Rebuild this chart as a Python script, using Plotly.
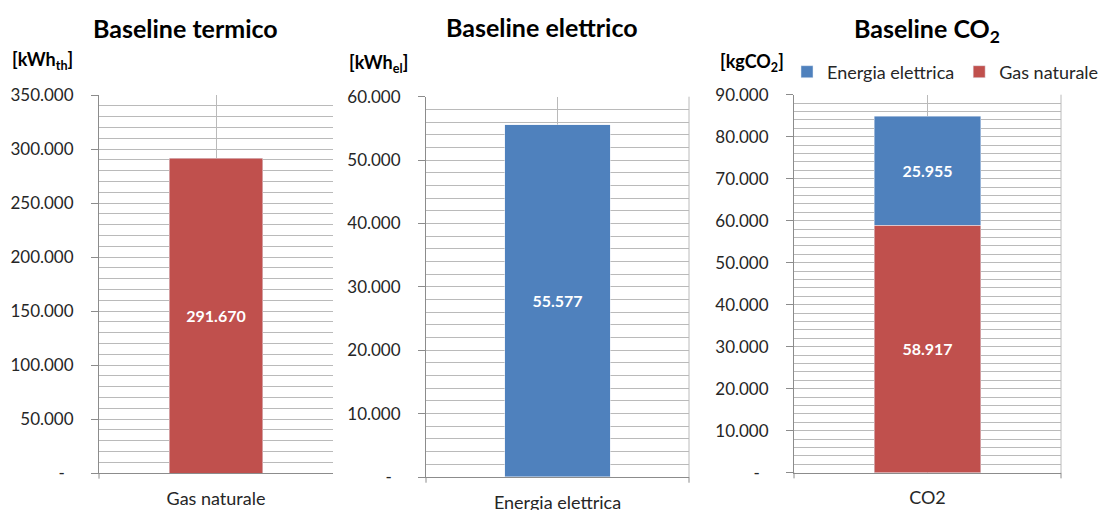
import plotly.graph_objects as go

# ---- data ----
titles = ["Baseline termico", "Baseline elettrico", "Baseline CO<sub>2</sub>"]
units = ["[kWh<sub>th</sub>]", "[kWh<sub>el</sub>]", "[kgCO<sub>2</sub>]"]

cat_termico = ["Gas naturale"]
val_termico = [291670]

cat_elettrico = ["Energia elettrica"]
val_elettrico = [55577]

cat_co2 = ["CO2"]
co2_gas = [58917]
co2_el = [25955]

ticks_termico = [0, 50000, 100000, 150000, 200000, 250000, 300000, 350000]
ticklab_termico = ["-\u00a0\u00a0", "50.000", "100.000", "150.000", "200.000", "250.000", "300.000", "350.000"]
ticks_elettrico = [0, 10000, 20000, 30000, 40000, 50000, 60000]
ticklab_elettrico = ["-\u00a0\u00a0", "10.000", "20.000", "30.000", "40.000", "50.000", "60.000"]
ticks_co2 = [0, 10000, 20000, 30000, 40000, 50000, 60000, 70000, 80000, 90000]
ticklab_co2 = ["-\u00a0\u00a0", "10.000", "20.000", "30.000", "40.000", "50.000", "60.000", "70.000", "80.000", "90.000"]

RED = "#C0504D"
BLUE = "#4F81BD"
GRID = "#BABABA"
AXIS = "#8C8C8C"
TXT = "#262626"
FONT = "Lato"

W, H = 1104, 510
def px_x(a, b):
    return [a / W, b / W]
def px_y(top, bottom):
    return [1 - bottom / H, 1 - top / H]

fig = go.Figure()

label_font = dict(family=FONT, size=16, color="white", weight="bold")

fig.add_trace(go.Bar(x=cat_termico, y=val_termico, marker_color=RED, width=0.4,
                     texttemplate="%{y:,.0f}", textposition="inside", insidetextanchor="middle",
                     textfont=label_font, showlegend=False, xaxis="x", yaxis="y", name="Gas naturale"))
fig.add_trace(go.Bar(x=cat_elettrico, y=val_elettrico, marker_color=BLUE, width=0.4,
                     texttemplate="%{y:,.0f}", textposition="inside", insidetextanchor="middle",
                     textfont=label_font, showlegend=False, xaxis="x2", yaxis="y2", name="Energia elettrica"))
fig.add_trace(go.Bar(x=cat_co2, y=co2_gas, marker_color=RED, width=0.4, name="Gas naturale",
                     texttemplate="%{y:,.0f}", textposition="inside", insidetextanchor="middle",
                     textfont=label_font, legendrank=2, xaxis="x3", yaxis="y3"))
fig.add_trace(go.Bar(x=cat_co2, y=co2_el, marker_color=BLUE, width=0.4, name="Energia elettrica",
                     texttemplate="%{y:,.0f}", textposition="inside", insidetextanchor="middle",
                     textfont=label_font, legendrank=1, xaxis="x3", yaxis="y3"))

def xax(dom, anchor):
    return dict(domain=dom, anchor=anchor, type="category", range=[-0.5, 0.5],
                showgrid=True, gridcolor=GRID, gridwidth=1, showline=True, linecolor=AXIS, linewidth=1,
                ticks="", ticklabelstandoff=9, tickfont=dict(family=FONT, size=18, color=TXT),
                zeroline=False, fixedrange=True, automargin=False)

def yax(dom, anchor, rng, tv, tt, minor):
    return dict(domain=dom, anchor=anchor, range=rng, tickvals=tv, ticktext=tt,
                showgrid=True, gridcolor=GRID, gridwidth=1, showline=True, linecolor=AXIS, linewidth=1,
                ticks="outside", ticklen=7, tickcolor=AXIS, ticklabelstandoff=14,
                tickfont=dict(family=FONT, size=17, color=TXT), zeroline=False,
                minor=dict(dtick=minor, showgrid=True, gridcolor=GRID, gridwidth=1, ticks=""),
                fixedrange=True, automargin=False)

fig.update_layout(
    width=W, height=H, margin=dict(l=0, r=0, t=0, b=0, autoexpand=False),
    paper_bgcolor="white", plot_bgcolor="white",
    barmode="stack", separators=",.",
    font=dict(family=FONT, color=TXT),
    xaxis=xax(px_x(99, 333), "y"),
    yaxis=yax(px_y(95, 473), "x", [0, 350000], ticks_termico, ticklab_termico, 10000),
    xaxis2=xax(px_x(426, 689), "y2"),
    yaxis2=yax(px_y(96.7, 477), "x2", [0, 60000], ticks_elettrico, ticklab_elettrico, 2000),
    xaxis3=xax(px_x(794, 1061), "y3"),
    yaxis3=yax(px_y(94.7, 472.7), "x3", [0, 90000], ticks_co2, ticklab_co2, 2000),
    legend=dict(orientation="h", x=1.0, xanchor="right", y=1 - 72 / H, yanchor="middle",
                font=dict(family=FONT, size=18, color=TXT), itemwidth=30,
                bgcolor="rgba(0,0,0,0)", traceorder="normal"),
)

# titles and unit labels
title_pos = [(185, 28), (542, 27), (927, 30)]
unit_pos = [(10, 60), (347, 63), (718, 62)]
for t, (cx, cy) in zip(titles, title_pos):
    fig.add_annotation(text=t, x=cx / W, y=1 - cy / H, xref="paper", yref="paper",
                       xanchor="center", yanchor="middle", showarrow=False,
                       font=dict(family=FONT, size=25, color="black", weight="bold"))
for u, (ux, uy) in zip(units, unit_pos):
    fig.add_annotation(text=u, x=ux / W, y=1 - uy / H, xref="paper", yref="paper",
                       xanchor="left", yanchor="middle", showarrow=False,
                       font=dict(family=FONT, size=18, color="black", weight="bold"))

# right borders (chart 2 and 3) and boundary tick marks
for xr, yr in [("x2", "y2"), ("x3", "y3")]:
    fig.add_shape(type="line", xref=f"{xr} domain", yref=f"{yr} domain", x0=1, x1=1, y0=0, y1=1,
                  line=dict(color=GRID, width=1))
    fig.add_shape(type="line", xref=f"{xr} domain", yref=f"{yr} domain", x0=1, x1=1, y0=0, y1=-0.015,
                  line=dict(color=AXIS, width=1))
for xr, yr in [("x", "y"), ("x2", "y2"), ("x3", "y3")]:
    fig.add_shape(type="line", xref=f"{xr} domain", yref=f"{yr} domain", x0=0, x1=0, y0=0, y1=-0.015,
                  line=dict(color=AXIS, width=1))

fig.write_html("out.html", config={"displayModeBar": False})
